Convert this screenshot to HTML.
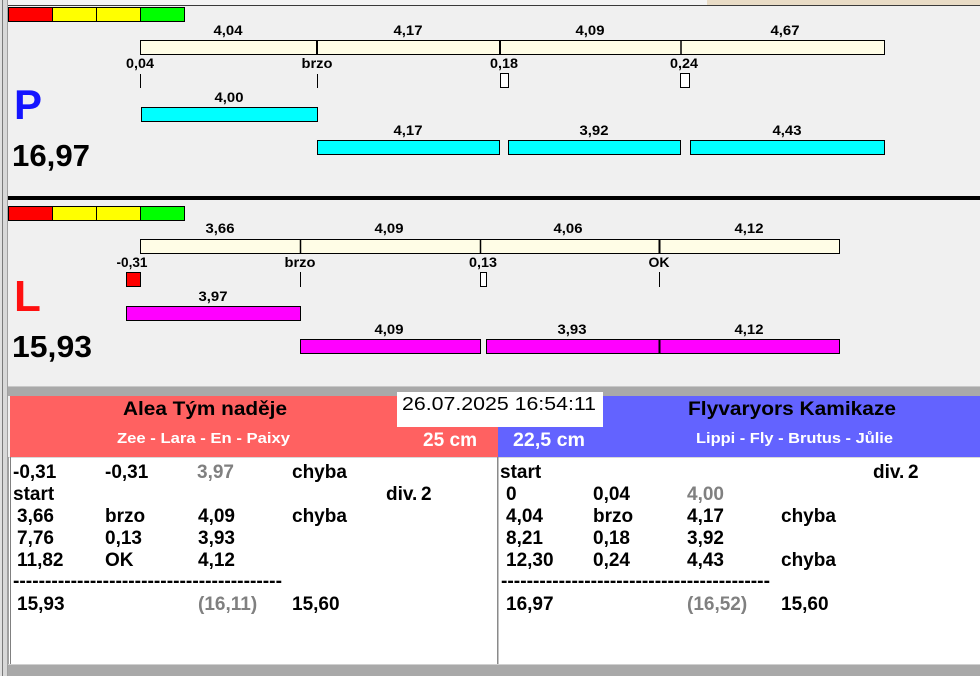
<!DOCTYPE html>
<html><head><meta charset="utf-8"><style>
html,body{margin:0;padding:0;background:#f0f0f0;}
svg{display:block;}
text{font-family:"Liberation Sans",Arial,sans-serif;}
.s{font-size:14px;font-weight:bold;fill:#000;text-anchor:middle;}
.t{font-size:19px;font-weight:bold;fill:#000;}
.g{fill:#808080;}
</style></head><body>
<svg width="980" height="676" viewBox="0 0 980 676" xmlns="http://www.w3.org/2000/svg">
<rect x="0" y="0" width="980" height="676" fill="#f0f0f0"/>
<!-- top strip -->
<rect x="0" y="0" width="980" height="5" fill="#f4f4f4"/>
<rect x="707" y="0" width="273" height="5" fill="#e9dcc6"/>
<rect x="8" y="5" width="972" height="1" fill="#3a3a3a"/>
<!-- left edges -->
<rect x="0" y="0" width="2" height="676" fill="#e0e0e0"/>
<rect x="2" y="0" width="1" height="676" fill="#7a7a7a"/>
<rect x="3" y="0" width="4" height="676" fill="#d8d8d8"/>
<rect x="7" y="0" width="1" height="676" fill="#a0a0a0"/>

<!-- ===== Panel P ===== -->
<g stroke="#000" stroke-width="1">
<rect x="8.5" y="7.5" width="44" height="14" fill="#ff0000"/>
<rect x="52.5" y="7.5" width="44" height="14" fill="#ffff00"/>
<rect x="96.5" y="7.5" width="44" height="14" fill="#ffff00"/>
<rect x="140.5" y="7.5" width="44" height="14" fill="#00ff00"/>
<rect x="140.5" y="40.5" width="744" height="14" fill="#fffde6"/>
</g>
<g stroke="#000" stroke-width="2">
<line x1="317" y1="40" x2="317" y2="55"/>
<line x1="500" y1="40" x2="500" y2="55"/>
<line x1="681" y1="40" x2="681" y2="55" stroke-width="1.5"/>
</g>
<text class="s" x="228" y="35" textLength="29" lengthAdjust="spacingAndGlyphs">4,04</text>
<text class="s" x="408" y="35" textLength="29" lengthAdjust="spacingAndGlyphs">4,17</text>
<text class="s" x="590" y="35" textLength="29" lengthAdjust="spacingAndGlyphs">4,09</text>
<text class="s" x="785" y="35" textLength="29" lengthAdjust="spacingAndGlyphs">4,67</text>
<text class="s" x="140" y="68" textLength="28" lengthAdjust="spacingAndGlyphs">0,04</text>
<text class="s" x="317" y="68" textLength="31" lengthAdjust="spacingAndGlyphs">brzo</text>
<text class="s" x="504" y="68" textLength="28" lengthAdjust="spacingAndGlyphs">0,18</text>
<text class="s" x="684" y="68" textLength="28" lengthAdjust="spacingAndGlyphs">0,24</text>
<g stroke="#000" stroke-width="1">
<line x1="140.5" y1="74" x2="140.5" y2="88"/>
<line x1="317.5" y1="74" x2="317.5" y2="88"/>
<rect x="500.5" y="73.5" width="8" height="14" fill="#ffffff"/>
<rect x="680.5" y="73.5" width="9" height="14" fill="#ffffff"/>
<rect x="141.5" y="107.5" width="176" height="14" fill="#00ffff"/>
<rect x="317.5" y="140.5" width="182" height="14" fill="#00ffff"/>
<rect x="508.5" y="140.5" width="172" height="14" fill="#00ffff"/>
<rect x="690.5" y="140.5" width="194" height="14" fill="#00ffff"/>
</g>
<text class="s" x="229" y="102" textLength="29" lengthAdjust="spacingAndGlyphs">4,00</text>
<text class="s" x="408" y="135" textLength="29" lengthAdjust="spacingAndGlyphs">4,17</text>
<text class="s" x="594" y="135" textLength="29" lengthAdjust="spacingAndGlyphs">3,92</text>
<text class="s" x="787" y="135" textLength="29" lengthAdjust="spacingAndGlyphs">4,43</text>
<text x="14" y="119" style="font-size:42px;font-weight:bold;fill:#1414ff;">P</text>
<text x="12" y="166" style="font-size:31px;font-weight:bold;fill:#000;" textLength="78" lengthAdjust="spacingAndGlyphs">16,97</text>

<rect x="8" y="196" width="972" height="4" fill="#000"/>

<!-- ===== Panel L ===== -->
<g stroke="#000" stroke-width="1">
<rect x="8.5" y="206.5" width="44" height="14" fill="#ff0000"/>
<rect x="52.5" y="206.5" width="44" height="14" fill="#ffff00"/>
<rect x="96.5" y="206.5" width="44" height="14" fill="#ffff00"/>
<rect x="140.5" y="206.5" width="44" height="14" fill="#00ff00"/>
<rect x="140.5" y="239.5" width="699" height="14" fill="#fffde6"/>
</g>
<g stroke="#000" stroke-width="1.5">
<line x1="300.5" y1="239" x2="300.5" y2="254"/>
<line x1="480.5" y1="239" x2="480.5" y2="254"/>
<line x1="659.5" y1="239" x2="659.5" y2="254" stroke-width="2"/>
</g>
<text class="s" x="220" y="233" textLength="29" lengthAdjust="spacingAndGlyphs">3,66</text>
<text class="s" x="389" y="233" textLength="29" lengthAdjust="spacingAndGlyphs">4,09</text>
<text class="s" x="568" y="233" textLength="29" lengthAdjust="spacingAndGlyphs">4,06</text>
<text class="s" x="749" y="233" textLength="29" lengthAdjust="spacingAndGlyphs">4,12</text>
<text class="s" x="132" y="267" textLength="31" lengthAdjust="spacingAndGlyphs">-0,31</text>
<text class="s" x="300" y="267" textLength="31" lengthAdjust="spacingAndGlyphs">brzo</text>
<text class="s" x="483" y="267" textLength="28" lengthAdjust="spacingAndGlyphs">0,13</text>
<text class="s" x="659" y="267" textLength="21" lengthAdjust="spacingAndGlyphs">OK</text>
<g stroke="#000" stroke-width="1">
<rect x="126.5" y="272.5" width="14" height="14" fill="#ff0000"/>
<line x1="300.5" y1="272" x2="300.5" y2="287"/>
<rect x="480.5" y="272.5" width="6" height="14" fill="#ffffff"/>
<line x1="659.5" y1="272" x2="659.5" y2="287"/>
<rect x="126.5" y="306.5" width="174" height="14" fill="#ff00ff"/>
<rect x="300.5" y="339.5" width="180" height="14" fill="#ff00ff"/>
<rect x="486.5" y="339.5" width="173" height="14" fill="#ff00ff"/>
<rect x="659.5" y="339.5" width="180" height="14" fill="#ff00ff"/>
</g>
<line x1="659.5" y1="339" x2="659.5" y2="354" stroke="#000" stroke-width="2"/>
<text class="s" x="213" y="301" textLength="29" lengthAdjust="spacingAndGlyphs">3,97</text>
<text class="s" x="389" y="334" textLength="29" lengthAdjust="spacingAndGlyphs">4,09</text>
<text class="s" x="572" y="334" textLength="29" lengthAdjust="spacingAndGlyphs">3,93</text>
<text class="s" x="749" y="334" textLength="29" lengthAdjust="spacingAndGlyphs">4,12</text>
<text x="14" y="311" style="font-size:44px;font-weight:bold;fill:#ff1010;">L</text>
<text x="12" y="357" style="font-size:31px;font-weight:bold;fill:#000;" textLength="80" lengthAdjust="spacingAndGlyphs">15,93</text>

<!-- gray band -->
<rect x="8" y="386" width="972" height="10" fill="#a9a9a9"/>
<rect x="8" y="386" width="972" height="1" fill="#c8c8c8"/>

<!-- headers -->
<rect x="10" y="396" width="488" height="61" fill="#ff6161"/>
<rect x="498" y="396" width="482" height="61" fill="#6363ff"/>
<rect x="397" y="392" width="206" height="35" fill="#ffffff"/>
<text x="402" y="410" style="font-size:18px;fill:#000;" textLength="194" lengthAdjust="spacingAndGlyphs">26.07.2025 16:54:11</text>
<text x="123" y="415" style="font-size:19px;font-weight:bold;fill:#000;" textLength="164" lengthAdjust="spacingAndGlyphs">Alea Tým naděje</text>
<text x="117" y="443" style="font-size:15px;font-weight:bold;fill:#fff;" textLength="173" lengthAdjust="spacingAndGlyphs">Zee - Lara - En - Paixy</text>
<text x="423" y="446" style="font-size:19px;font-weight:bold;fill:#fff;" textLength="54" lengthAdjust="spacingAndGlyphs">25 cm</text>
<text x="688" y="415" style="font-size:19px;font-weight:bold;fill:#000;" textLength="208" lengthAdjust="spacingAndGlyphs">Flyvaryors Kamikaze</text>
<text x="513" y="446" style="font-size:19px;font-weight:bold;fill:#fff;" textLength="72" lengthAdjust="spacingAndGlyphs">22,5 cm</text>
<text x="696" y="443" style="font-size:15px;font-weight:bold;fill:#fff;" textLength="197" lengthAdjust="spacingAndGlyphs">Lippi - Fly - Brutus - Jůlie</text>

<!-- content boxes -->
<rect x="8" y="457" width="972" height="207" fill="#ffffff"/>
<rect x="8" y="457" width="972" height="1" fill="#d8d8d8"/>
<rect x="8" y="457" width="1" height="207" fill="#a0a0a0"/>
<rect x="10" y="457" width="1" height="207" fill="#808080"/>
<rect x="497" y="457" width="1.5" height="207" fill="#8a8a8a"/>
<rect x="8" y="664" width="972" height="1" fill="#d0d0d0"/>
<rect x="8" y="665" width="972" height="11" fill="#a9a9a9"/>

<!-- left table -->
<text class="t" x="13" y="478">-0,31</text>
<text class="t" x="105" y="478">-0,31</text>
<text class="t g" x="197" y="478">3,97</text>
<text class="t" x="292" y="478">chyba</text>
<text class="t" x="13" y="500">start</text>
<text class="t" x="386" y="500">div.</text>
<text class="t" x="421" y="500">2</text>
<text class="t" x="17" y="522">3,66</text>
<text class="t" x="105" y="522">brzo</text>
<text class="t" x="198" y="522">4,09</text>
<text class="t" x="292" y="522">chyba</text>
<text class="t" x="17" y="544">7,76</text>
<text class="t" x="105" y="544">0,13</text>
<text class="t" x="198" y="544">3,93</text>
<text class="t" x="17" y="566">11,82</text>
<text class="t" x="105" y="566">OK</text>
<text class="t" x="198" y="566">4,12</text>
<text class="t" x="13" y="587" textLength="269" lengthAdjust="spacingAndGlyphs">------------------------------------------</text>
<text class="t" x="17" y="610">15,93</text>
<text class="t g" x="198" y="610">(16,11)</text>
<text class="t" x="292" y="610">15,60</text>

<!-- right table -->
<text class="t" x="500" y="478">start</text>
<text class="t" x="873" y="478">div.</text>
<text class="t" x="908" y="478">2</text>
<text class="t" x="506" y="500">0</text>
<text class="t" x="593" y="500">0,04</text>
<text class="t g" x="687" y="500">4,00</text>
<text class="t" x="506" y="522">4,04</text>
<text class="t" x="593" y="522">brzo</text>
<text class="t" x="687" y="522">4,17</text>
<text class="t" x="781" y="522">chyba</text>
<text class="t" x="506" y="544">8,21</text>
<text class="t" x="593" y="544">0,18</text>
<text class="t" x="687" y="544">3,92</text>
<text class="t" x="506" y="566">12,30</text>
<text class="t" x="593" y="566">0,24</text>
<text class="t" x="687" y="566">4,43</text>
<text class="t" x="781" y="566">chyba</text>
<text class="t" x="501" y="587" textLength="269" lengthAdjust="spacingAndGlyphs">------------------------------------------</text>
<text class="t" x="506" y="610">16,97</text>
<text class="t g" x="687" y="610">(16,52)</text>
<text class="t" x="781" y="610">15,60</text>
</svg>
</body></html>
